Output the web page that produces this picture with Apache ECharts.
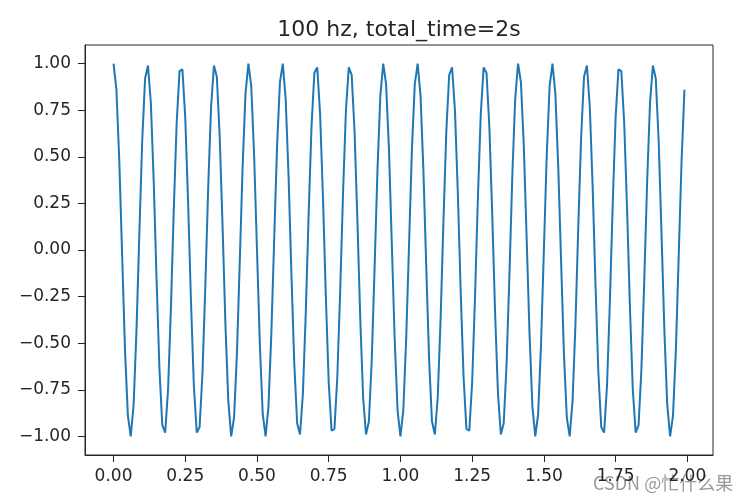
<!DOCTYPE html>
<html>
<head>
<meta charset="utf-8">
<script src="https://cdn.jsdelivr.net/npm/echarts@6/dist/echarts.min.js"></script>
<style>html,body{margin:0;padding:0;background:#fff}#c{width:745px;height:501px}</style>
</head>
<body>
<div id="c"></div>
<script>
const titleText = "100 hz, total_time=2s";
const watermark = "CSDN @忙什么果";
const xTicks = [0, 0.25, 0.5, 0.75, 1, 1.25, 1.5, 1.75, 2];
const yTicks = [-1, -0.75, -0.5, -0.25, 0, 0.25, 0.5, 0.75, 1];
const times = [
0.00,0.01,0.02,0.03,0.04,0.05,0.06,0.07,0.08,0.09,0.10,0.11,0.12,0.13,0.14,0.15,0.16,0.17,0.18,0.19,
0.20,0.21,0.22,0.23,0.24,0.25,0.26,0.27,0.28,0.29,0.30,0.31,0.32,0.33,0.34,0.35,0.36,0.37,0.38,0.39,
0.40,0.41,0.42,0.43,0.44,0.45,0.46,0.47,0.48,0.49,0.50,0.51,0.52,0.53,0.54,0.55,0.56,0.57,0.58,0.59,
0.60,0.61,0.62,0.63,0.64,0.65,0.66,0.67,0.68,0.69,0.70,0.71,0.72,0.73,0.74,0.75,0.76,0.77,0.78,0.79,
0.80,0.81,0.82,0.83,0.84,0.85,0.86,0.87,0.88,0.89,0.90,0.91,0.92,0.93,0.94,0.95,0.96,0.97,0.98,0.99,
1.00,1.01,1.02,1.03,1.04,1.05,1.06,1.07,1.08,1.09,1.10,1.11,1.12,1.13,1.14,1.15,1.16,1.17,1.18,1.19,
1.20,1.21,1.22,1.23,1.24,1.25,1.26,1.27,1.28,1.29,1.30,1.31,1.32,1.33,1.34,1.35,1.36,1.37,1.38,1.39,
1.40,1.41,1.42,1.43,1.44,1.45,1.46,1.47,1.48,1.49,1.50,1.51,1.52,1.53,1.54,1.55,1.56,1.57,1.58,1.59,
1.60,1.61,1.62,1.63,1.64,1.65,1.66,1.67,1.68,1.69,1.70,1.71,1.72,1.73,1.74,1.75,1.76,1.77,1.78,1.79,
1.80,1.81,1.82,1.83,1.84,1.85,1.86,1.87,1.88,1.89,1.90,1.91,1.92,1.93,1.94,1.95,1.96,1.97,1.98,1.99
];
const signal = [
1.00,0.86,0.48,-0.03,-0.54,-0.89,-1.00,-0.83,-0.43,0.09,0.59,0.92,0.99,0.79,0.37,-0.16,-0.64,-0.94,-0.98,-0.75,
-0.31,0.22,0.68,0.96,0.97,0.71,0.25,-0.28,-0.73,-0.98,-0.95,-0.66,-0.19,0.34,0.77,0.99,0.93,0.61,0.13,-0.40,
-0.81,-1.00,-0.90,-0.56,-0.06,0.45,0.84,1.00,0.88,0.51,0.00,-0.51,-0.88,-1.00,-0.84,-0.45,0.06,0.56,0.90,1.00,
0.81,0.40,-0.13,-0.61,-0.93,-0.99,-0.77,-0.34,0.19,0.66,0.95,0.98,0.73,0.28,-0.25,-0.71,-0.97,-0.96,-0.68,-0.22,
0.31,0.75,0.98,0.94,0.64,0.16,-0.37,-0.79,-0.99,-0.92,-0.59,-0.09,0.43,0.83,1.00,0.89,0.54,0.03,-0.48,-0.86,
-1.00,-0.86,-0.48,0.03,0.54,0.89,1.00,0.83,0.43,-0.09,-0.59,-0.92,-0.99,-0.79,-0.37,0.16,0.64,0.94,0.98,0.75,
0.31,-0.22,-0.68,-0.96,-0.97,-0.71,-0.25,0.28,0.73,0.98,0.95,0.66,0.19,-0.34,-0.77,-0.99,-0.93,-0.61,-0.13,0.40,
0.81,1.00,0.90,0.56,0.06,-0.45,-0.84,-1.00,-0.88,-0.51,0.00,0.51,0.88,1.00,0.84,0.45,-0.06,-0.56,-0.90,-1.00,
-0.81,-0.40,0.13,0.61,0.93,0.99,0.77,0.34,-0.19,-0.66,-0.95,-0.98,-0.73,-0.28,0.25,0.71,0.97,0.96,0.68,0.22,
-0.31,-0.75,-0.98,-0.94,-0.64,-0.16,0.37,0.79,0.99,0.92,0.59,0.09,-0.43,-0.83,-1.00,-0.89,-0.54,-0.03,0.48,0.86
];

const fmt = v => (v < 0 ? '\u2212' : '') + Math.abs(v).toFixed(2);
const font = 'DejaVu Sans';
const chart = echarts.init(document.getElementById('c'), null, {renderer: 'canvas'});
chart.setOption({
  animation: false,
  backgroundColor: '#ffffff',
  grid: {left: 85, right: 32, top: 45, bottom: 46, show: true, borderColor: '#262626', borderWidth: 1, containLabel: false},
  xAxis: {
    type: 'value', min: -0.0995, max: 2.0895,
    axisLine: {show: true, onZero: false, lineStyle: {color: '#262626', width: 1}},
    axisTick: {show: true, length: 7, customValues: xTicks, lineStyle: {color: '#262626'}},
    axisLabel: {customValues: xTicks, formatter: fmt, fontFamily: font, fontSize: 17, color: '#262626', margin: 13},
    splitLine: {show: false}
  },
  yAxis: {
    type: 'value', min: -1.1, max: 1.1,
    axisLine: {show: true, onZero: false, lineStyle: {color: '#262626', width: 1}},
    axisTick: {show: true, length: 7, customValues: yTicks, lineStyle: {color: '#262626'}},
    axisLabel: {customValues: yTicks, formatter: fmt, fontFamily: font, fontSize: 17, color: '#262626', margin: 14},
    splitLine: {show: false}
  },
  series: [{
    type: 'line',
    data: times.map((t, i) => [t, signal[i]]),
    showSymbol: false,
    lineStyle: {color: '#1f77b4', width: 2},
    itemStyle: {color: '#1f77b4'}
  }],
  graphic: [{
    type: 'text', x: 399, y: 30,
    style: {text: titleText, fontFamily: font, fontSize: 22, fill: '#262626', textAlign: 'center', textVerticalAlign: 'middle'}
  }, {
    type: 'text', x: 593, y: 483,
    style: {text: watermark, fontFamily: 'Noto Sans CJK SC', fontSize: 18, fill: 'rgba(110,110,110,0.7)', textAlign: 'left', textVerticalAlign: 'middle'}
  }]
});
</script>
</body>
</html>
